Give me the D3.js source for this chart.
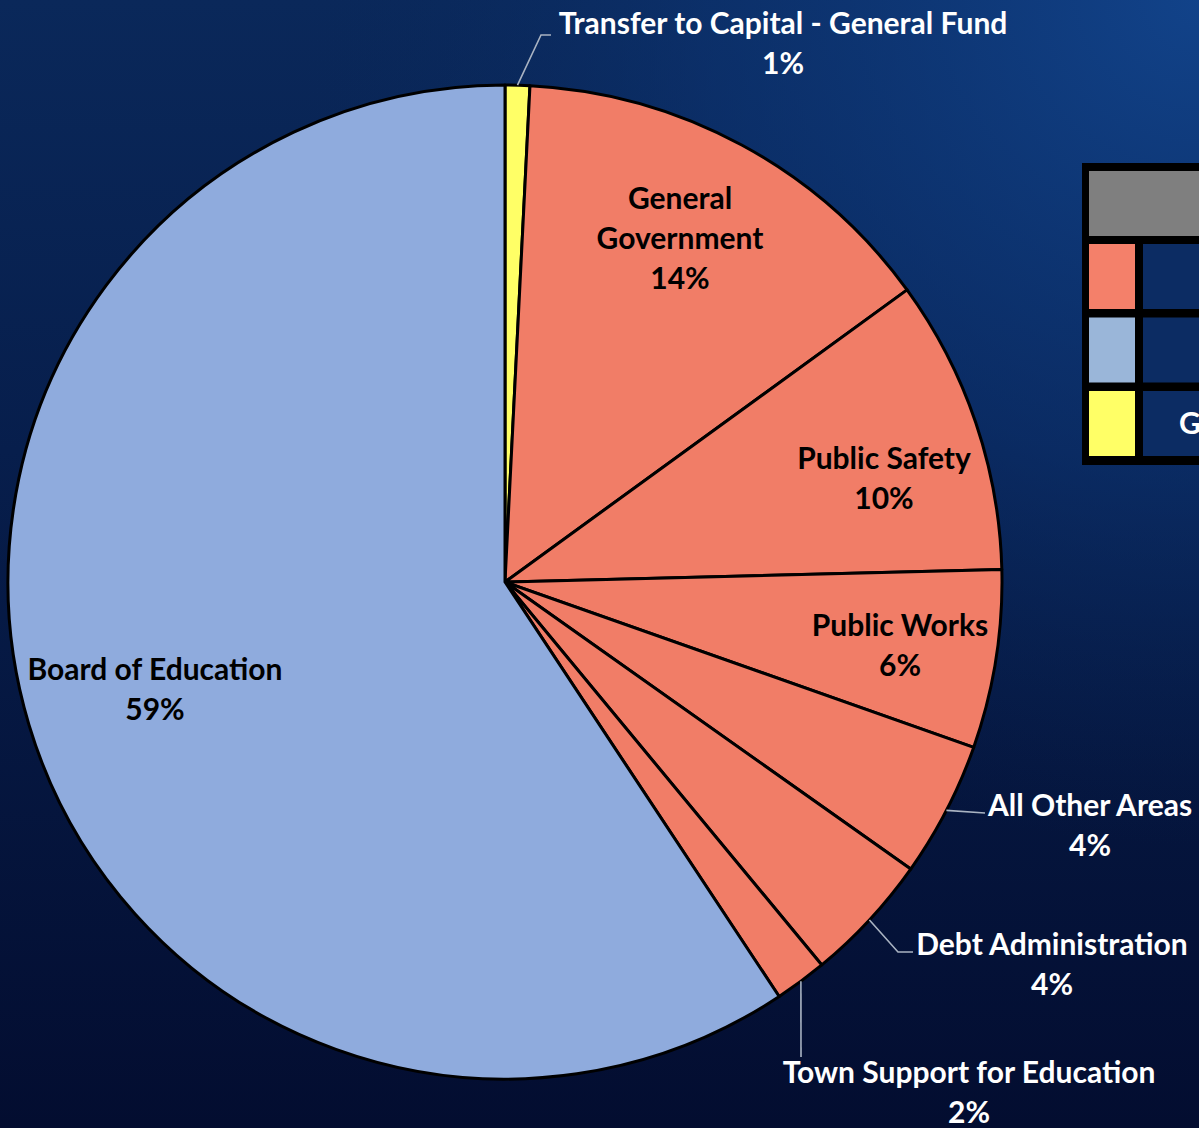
<!DOCTYPE html>
<html>
<head>
<meta charset="utf-8">
<script src="https://cdn.jsdelivr.net/npm/d3@7/dist/d3.min.js"></script>
<style>
  html, body { margin: 0; padding: 0; background: #071d4a; }
  svg { display: block; }
  text { font-family: Lato, "Open Sans", sans-serif; font-weight: 700; }
</style>
</head>
<body>
<svg id="chart" width="1199" height="1128"></svg>
<script>
// Budget share by area, clockwise from 12 o'clock
const categories = [
  "Transfer to Capital - General Fund",
  "General Government",
  "Public Safety",
  "Public Works",
  "All Other Areas",
  "Debt Administration",
  "Town Support for Education",
  "Board of Education"
];
const shares = [0.8, 14.2, 9.6, 5.8, 4.4, 4.2, 1.7, 59.3];
const groups = ["general", "town", "town", "town", "town", "town", "town", "boe"];

// Label text split into lines
const labelLines = [
  ["Transfer to Capital - General Fund"],
  ["General", "Government"],
  ["Public Safety"],
  ["Public Works"],
  ["All Other Areas"],
  ["Debt Administration"],
  ["Town Support for Education"],
  ["Board of Education"]
];

// Legend rows (only the colour keys and the start of the text column fit on the page)
const legendGroups = ["town", "boe", "general"];
const legendText = ["", "", "General Fund"];

const width = 1199, height = 1128;
const cx = 505, cy = 582, R = 497;

const fill = d3.scaleOrdinal()
  .domain(["town", "boe", "general"])
  .range(["#F17D67", "#8FABDD", "#FFFF66"]);
const legendFill = d3.scaleOrdinal()
  .domain(["town", "boe", "general"])
  .range(["#F4806A", "#9AB6D9", "#FFFF66"]);

const svg = d3.select("#chart");
const defs = svg.append("defs");

// Navy backdrop: dark towards the bottom, brighter glow in the upper right
const bg = defs.append("linearGradient").attr("id", "bg")
  .attr("x1", "0").attr("y1", "0").attr("x2", "0").attr("y2", "1");
bg.append("stop").attr("offset", "0%").attr("stop-color", "#0a285a");
bg.append("stop").attr("offset", "40%").attr("stop-color", "#071e4c");
bg.append("stop").attr("offset", "100%").attr("stop-color", "#030d30");
svg.append("rect").attr("width", width).attr("height", height).attr("fill", "url(#bg)");
const glow = defs.append("radialGradient").attr("id", "glow")
  .attr("cx", "1").attr("cy", "0").attr("r", "0.75");
glow.append("stop").attr("offset", "0%").attr("stop-color", "#1244 8c".replace(" ", "")).attr("stop-opacity", 0.95);
glow.append("stop").attr("offset", "55%").attr("stop-color", "#0d3676").attr("stop-opacity", 0.55);
glow.append("stop").attr("offset", "100%").attr("stop-color", "#0a285a").attr("stop-opacity", 0);
svg.append("rect").attr("width", width).attr("height", height).attr("fill", "url(#glow)");

// Legend table (runs off the right edge)
const lg = svg.append("g");
const lx = 1082, ly = 163;
lg.append("rect").attr("x", lx).attr("y", ly).attr("width", 140).attr("height", 302).attr("fill", "#000");
lg.append("rect").attr("x", lx + 7).attr("y", ly + 8).attr("width", 130).attr("height", 65).attr("fill", "#7f7f7f");
const rowH = 73.5;
legendGroups.forEach((g, i) => {
  const y0 = ly + 81 + i * rowH;
  lg.append("rect").attr("x", lx + 7).attr("y", y0).attr("width", 46).attr("height", 65)
    .attr("fill", legendFill(g));
  lg.append("rect").attr("x", lx + 61).attr("y", y0).attr("width", 80).attr("height", 65)
    .attr("fill", "#0c2c63");
  if (legendText[i]) {
    lg.append("text").attr("x", lx + 97).attr("y", y0 + 43)
      .attr("fill", "#fff").attr("font-size", 30).text(legendText[i]);
  }
});

// Pie
const pie = d3.pie().sort(null).value(d => d)
  .startAngle(0).endAngle(2 * Math.PI);
const arcs = pie(shares);
const arc = d3.arc().innerRadius(0).outerRadius(R);

const g = svg.append("g").attr("transform", `translate(${cx},${cy})`);
g.selectAll("path.slice").data(arcs).join("path")
  .attr("class", "slice")
  .attr("d", arc)
  .attr("fill", (d, i) => fill(groups[i]))
  .attr("stroke", "#000").attr("stroke-width", 3).attr("stroke-linejoin", "round");

const pct = v => Math.round(v) + "%";
const midA = d => (d.startAngle + d.endAngle) / 2;
const polar = (a, r) => [r * Math.sin(a), -r * Math.cos(a)];

// Label block centres (relative to the pie centre); outside labels get a
// leader line from the slice's rim through the listed elbow points
const labelLayout = [
  { at: [278, -539], elbow: [[36, -547], [46, -547]], color: "#fff" },
  { at: [175, -344], color: "#000" },
  { at: [379, -104], color: "#000" },
  { at: [395, 63], color: "#000" },
  { at: [585, 243], elbow: [[480, 231]], color: "#fff" },
  { at: [547, 382], elbow: [[393, 370], [408, 370]], color: "#fff" },
  { at: [464, 510], elbow: [[296, 475]], color: "#fff" },
  { at: [-350, 107], color: "#000" }
];

const lineH = 40, fs = 30;
arcs.forEach((d, i) => {
  const L = labelLayout[i];
  if (L.elbow) {
    const pts = [polar(midA(d), R), ...L.elbow];
    g.append("path")
      .attr("d", d3.line()(pts))
      .attr("fill", "none").attr("stroke", "#a9b3c2").attr("stroke-width", 1.6);
  }
  const [tx, ty] = L.at;
  const lines = [...labelLines[i], pct(shares[i])];
  const top = ty - (lines.length - 1) * lineH / 2;
  const t = g.append("text")
    .attr("text-anchor", "middle")
    .attr("fill", L.color)
    .attr("font-size", fs);
  lines.forEach((s, k) => {
    t.append("tspan").attr("x", tx).attr("y", top + k * lineH)
      .attr("dy", "0.35em").text(s);
  });
});
</script>
</body>
</html>
